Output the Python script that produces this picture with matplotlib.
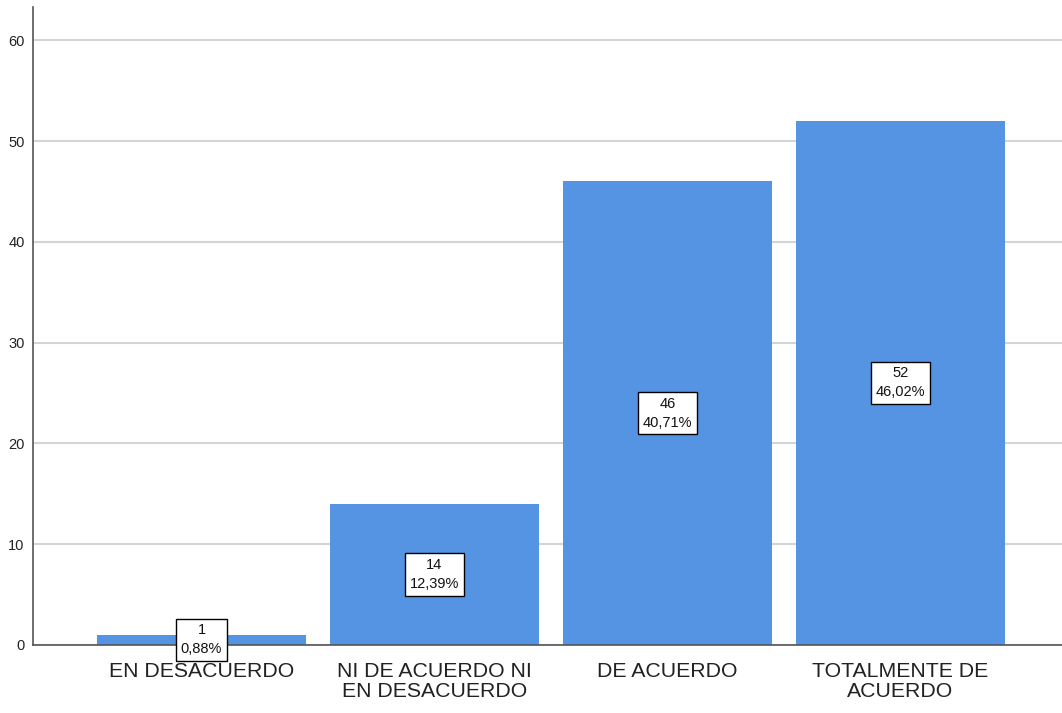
import matplotlib.pyplot as plt

categories = ["EN DESACUERDO", "NI DE ACUERDO NI\nEN DESACUERDO", "DE ACUERDO", "TOTALMENTE DE\nACUERDO"]
counts = [1, 14, 46, 52]
percents = ["0,88%", "12,39%", "40,71%", "46,02%"]

plt.rcParams['font.family'] = ['Liberation Sans', 'DejaVu Sans']

fig = plt.figure(figsize=(10.62, 7.13), dpi=100)
ax = fig.add_axes([33 / 1062, 68 / 713, 1 - 33 / 1062, (645 - 7) / 713])

x = list(range(len(categories)))
ax.bar(x, counts, width=0.897, color='#5594e3', zorder=2)

for xi, c, p in zip(x, counts, percents):
    ax.text(xi, c / 2, f"{c}\n{p}", ha='center', va='center', fontsize=10.5,
            linespacing=1.45, zorder=4, color='#111111',
            bbox=dict(boxstyle='square,pad=0.32', facecolor='white', edgecolor='black', linewidth=1))

ax.set_xlim(-0.723, 3.693)
ax.set_ylim(0, 63.3)
ax.set_yticks([0, 10, 20, 30, 40, 50, 60])
ax.set_xticks(x)
ax.set_xticklabels(categories, fontsize=15.3, linespacing=1.12, color='#222222')
ax.tick_params(axis='both', length=0)
ax.tick_params(axis='y', labelsize=10.5, pad=6, labelcolor='#222222')
ax.tick_params(axis='x', pad=12)
ax.yaxis.grid(True, color='#d4d4d4', linewidth=1.5, zorder=0)
ax.set_axisbelow(True)

for s in ['top', 'right']:
    ax.spines[s].set_visible(False)
ax.spines['left'].set_color('#555555')
ax.spines['bottom'].set_color('#555555')
ax.spines['left'].set_linewidth(1.2)
ax.spines['bottom'].set_linewidth(1.2)

fig.savefig('out.png', dpi=100)
